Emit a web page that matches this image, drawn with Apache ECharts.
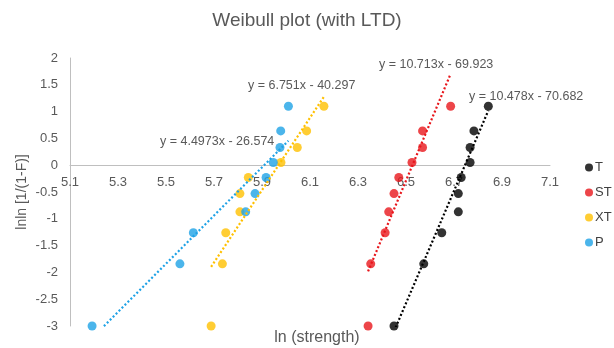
<!DOCTYPE html>
<html><head><meta charset="utf-8">
<script src="https://cdn.jsdelivr.net/npm/echarts@6/dist/echarts.min.js"></script>
<style>html,body{margin:0;padding:0;background:#fff}#c{width:614px;height:348px}</style>
</head><body><div id="c"></div>
<script>
const seriesNames = ['T', 'ST', 'XT', 'P'];
const lnF = [1.10, 0.64, 0.33, 0.05, -0.23, -0.53, -0.87, -1.26, -1.84, -3.0];
const xT  = [6.843, 6.783, 6.767, 6.767, 6.730, 6.718, 6.718, 6.649, 6.574, 6.450];
const xST = [6.686, 6.569, 6.569, 6.525, 6.470, 6.450, 6.428, 6.413, 6.353, 6.342];
const xXT = [6.158, 6.086, 6.047, 5.979, 5.843, 5.808, 5.808, 5.749, 5.735, 5.688];
const xP  = [6.010, 5.978, 5.975, 5.947, 5.917, 5.871, 5.832, 5.614, 5.558, 5.192];
const slopes = [10.478, 10.713, 6.751, 4.4973];
const intercepts = [-70.682, -69.923, -40.297, -26.574];
const equations = ['y = 10.478x - 70.682', 'y = 10.713x - 69.923', 'y = 6.751x - 40.297', 'y = 4.4973x - 26.574'];
const xTicks = ['5.1','5.3','5.5','5.7','5.9','6.1','6.3','6.5','6.7','6.9','7.1'];

const colors = ['#000000', '#e8161b', '#ffc000', '#1ea2e6'];
const eqPos = [[469, 97], [379, 65], [248, 86], [160, 142]];
const xs = [xT, xST, xXT, xP];
const font = 'Liberation Sans, Arial, sans-serif';

const series = [];
xs.forEach((arr, i) => {
  series.push({
    name: seriesNames[i], type: 'scatter', symbol: 'circle', symbolSize: 9,
    itemStyle: { color: colors[i] },
    data: arr.map((x, k) => [x, lnF[k]]), z: 3
  });
});
xs.forEach((arr, i) => {
  const lo = Math.min(...arr), hi = Math.max(...arr);
  series.push({
    name: seriesNames[i] + ' trend', type: 'line', showSymbol: false, symbol: 'none',
    clip: true, silent: true,
    lineStyle: { color: colors[i], width: 2.2, type: [2, 2.2] },
    data: [[lo, slopes[i] * lo + intercepts[i]], [hi, slopes[i] * hi + intercepts[i]]], z: 4
  });
});

const graphics = equations.map((t, i) => ({
  type: 'text', x: eqPos[i][0], y: eqPos[i][1],
  style: { text: t, fill: '#595959', font: '12.5px ' + font, textAlign: 'left', textVerticalAlign: 'middle' }
}));
graphics.push({
  type: 'text', x: 317, y: 338,
  style: { text: 'ln (strength)', fill: '#595959', font: '16px ' + font, textAlign: 'center', textVerticalAlign: 'middle' }
});
graphics.push({
  type: 'text', x: 22, y: 192, rotation: Math.PI / 2,
  style: { text: 'lnln [1/(1-F)]', fill: '#595959', font: '14px ' + font, textAlign: 'center', textVerticalAlign: 'middle' }
});

const labelFmt = v => { const s = v.toFixed(1); return xTicks.indexOf(s) >= 0 ? s : ''; };

const chart = echarts.init(document.getElementById('c'), null, { renderer: 'canvas' });
chart.setOption({
  animation: false,
  backgroundColor: '#fff',
  title: {
    text: 'Weibull plot (with LTD)', left: 'center', top: 6,
    textStyle: { fontFamily: font, fontSize: 19, fontWeight: 'normal', color: '#595959' }
  },
  legend: {
    data: seriesNames, orient: 'vertical', left: 580, top: 156,
    icon: 'circle', itemWidth: 8, itemHeight: 8, itemGap: 12,
    textStyle: { fontFamily: font, fontSize: 13, color: '#404040', padding: [0, 0, 0, -3] }
  },
  grid: [
    { left: 70, right: 64, top: 58, bottom: 22, containLabel: false },
    { left: 70, right: 64, top: 58, bottom: 182.5, containLabel: false }
  ],
  xAxis: [
    {
      type: 'value', gridIndex: 0, min: 5.1, max: 7.1, interval: 0.1,
      axisLine: { show: false }, axisTick: { show: false },
      splitLine: { show: false }, axisLabel: { show: false }
    },
    {
      type: 'value', gridIndex: 1, min: 5.1, max: 7.1, interval: 0.1, position: 'bottom',
      axisLine: { show: true, onZero: false, lineStyle: { color: '#bfbfbf', width: 1 } },
      axisTick: { show: false }, splitLine: { show: false },
      axisLabel: {
        margin: 10, fontFamily: font, fontSize: 13, color: '#595959',
        showMinLabel: true, showMaxLabel: true, formatter: labelFmt
      }
    }
  ],
  yAxis: [
    {
      type: 'value', gridIndex: 0, min: -3, max: 2, interval: 0.5,
      axisLine: { show: true, lineStyle: { color: '#bfbfbf', width: 1 } },
      axisTick: { show: false }, splitLine: { show: false },
      axisLabel: { margin: 12, fontFamily: font, fontSize: 13, color: '#595959' }
    },
    {
      type: 'value', gridIndex: 1, min: 0, max: 2,
      axisLine: { show: false }, axisTick: { show: false },
      splitLine: { show: false }, axisLabel: { show: false }
    }
  ],
  graphic: graphics,
  series: series
});
</script></body></html>
